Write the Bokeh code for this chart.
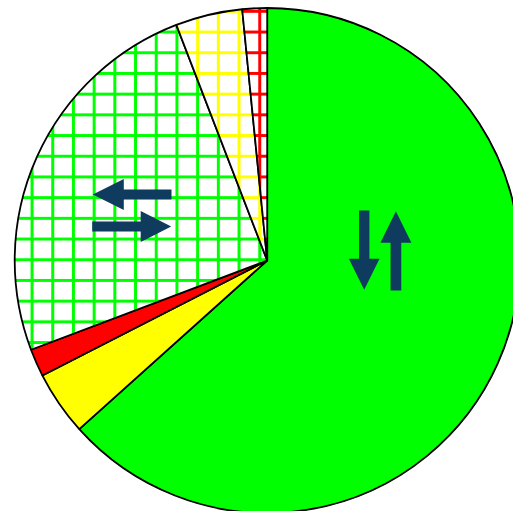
import numpy as np
from bokeh.plotting import figure
from bokeh.models import ColumnDataSource
from bokeh.embed import file_html
from bokeh.resources import INLINE

# Slice data (share of the whole, %), clockwise from 12 o'clock
categories = ["A", "B", "C", "D", "E", "F"]
values = [63.36, 4.11, 1.78, 24.89, 4.28, 1.58]
colors = ["#00ff00", "#ffff00", "#ff0000", "#00ff00", "#ffff00", "#ff0000"]
hatched = [False, False, False, True, True, True]

total = sum(values)
frac = np.array(values) / total
cum = np.concatenate([[0], np.cumsum(frac)])
start_deg = 90 - cum[1:] * 360
end_deg = 90 - cum[:-1] * 360

W, H = 513, 511
CX, CY = 266.7, 260.0  # pie centre in pixels from top-left of figure
R = 252.5

p = figure(width=W, height=H, x_range=(-CX, W - CX), y_range=(-(H - CY), CY),
           output_backend="svg", toolbar_location=None, min_border=0)
p.axis.visible = False
p.grid.visible = False
p.outline_line_color = None
p.background_fill_color = "white"

solid = ColumnDataSource(dict(
    start=[np.radians(s) for s, h in zip(start_deg, hatched) if not h],
    end=[np.radians(e) for e, h in zip(end_deg, hatched) if not h],
    color=[c for c, h in zip(colors, hatched) if not h],
))
hat = ColumnDataSource(dict(
    start=[np.radians(s) for s, h in zip(start_deg, hatched) if h],
    end=[np.radians(e) for e, h in zip(end_deg, hatched) if h],
    color=[c for c, h in zip(colors, hatched) if h],
))

p.wedge(x=0, y=0, radius=R, start_angle="start", end_angle="end", direction="anticlock",
        fill_color="color", line_color="black", line_width=1.8, source=solid)
p.wedge(x=0, y=0, radius=R, start_angle="start", end_angle="end", direction="anticlock",
        fill_color="white", hatch_pattern="+", hatch_color="color", hatch_scale=20.7,
        hatch_weight=3, line_color="black", line_width=1.8, source=hat)

ICON = "#0e3b5e"

def arrow(tail, tip, shaft_w, head_w, head_len):
    tail = np.array(tail, float); tip = np.array(tip, float)
    d = tip - tail
    L = np.hypot(*d)
    u = d / L
    n = np.array([-u[1], u[0]])
    base = tip - u * head_len
    pts = [tail + n * shaft_w / 2, base + n * shaft_w / 2, base + n * head_w / 2, tip,
           base - n * head_w / 2, base - n * shaft_w / 2, tail - n * shaft_w / 2]
    return [q[0] for q in pts], [q[1] for q in pts]

arrows = [
    ((-95.7, 66), (-174.4, 66), 10, 31, 31),
    ((-175, 34), (-96, 34), 10, 31, 30.5),
    ((97, 50), (97, -29.3), 10.4, 30.7, 31),
    ((128.7, -30), (128.7, 49.3), 10.7, 31, 31.6),
]
xs, ys = [], []
for a in arrows:
    x, y = arrow(*a)
    xs.append(x); ys.append(y)
p.patches(xs, ys, fill_color=ICON, line_color=None)

open("out.html", "w").write(file_html(p, INLINE))
